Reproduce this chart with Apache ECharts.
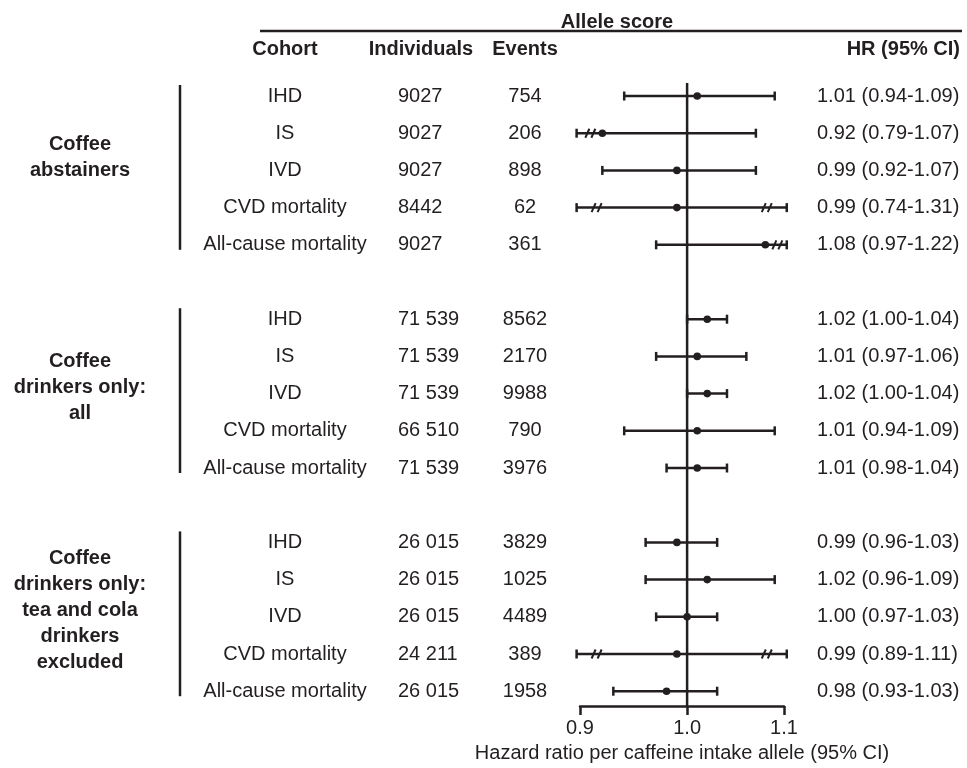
<!DOCTYPE html>
<html>
<head>
<meta charset="utf-8">
<script src="https://cdn.jsdelivr.net/npm/echarts@6/dist/echarts.min.js"></script>
<style>
html,body{margin:0;padding:0;background:#fff;}
#chart{width:967px;height:768px;}
</style>
</head>
<body>
<div id="chart"></div>
<script>
// ---------- DATA ----------
const groupLabels = ['Coffee\nabstainers', 'Coffee\ndrinkers only:\nall', 'Coffee\ndrinkers only:\ntea and cola\ndrinkers\nexcluded'];
const cohorts = ['IHD', 'IS', 'IVD', 'CVD mortality', 'All-cause mortality'];
const individuals = [
  ['9027', '9027', '9027', '8442', '9027'],
  ['71 539', '71 539', '71 539', '66 510', '71 539'],
  ['26 015', '26 015', '26 015', '24 211', '26 015']
];
const events = [
  ['754', '206', '898', '62', '361'],
  ['8562', '2170', '9988', '790', '3976'],
  ['3829', '1025', '4489', '389', '1958']
];
const hr = [
  [1.01, 0.92, 0.99, 0.99, 1.08],
  [1.02, 1.01, 1.02, 1.01, 1.01],
  [0.99, 1.02, 1.00, 0.99, 0.98]
];
const ciLow = [
  [0.94, 0.79, 0.92, 0.74, 0.97],
  [1.00, 0.97, 1.00, 0.94, 0.98],
  [0.96, 0.96, 0.97, 0.89, 0.93]
];
const ciHigh = [
  [1.09, 1.07, 1.07, 1.31, 1.22],
  [1.04, 1.06, 1.04, 1.09, 1.04],
  [1.03, 1.09, 1.03, 1.11, 1.03]
];
const tickValues = [0.9, 1.0, 1.1];
const tickLabels = ['0.9', '1.0', '1.1'];
const referenceHR = 1.0;
const displayRange = [0.897, 1.103]; // CI lines are truncated beyond this
const axisTitle = 'Hazard ratio per caffeine intake allele (95% CI)';
const headerTitle = 'Allele score';
const headers = ['Cohort', 'Individuals', 'Events', 'HR (95% CI)'];

// ---------- LAYOUT ----------
const COLOR = '#231f20';
const FONT = '"Liberation Sans", Arial, Helvetica, sans-serif';
const FS = 20;
const SLOTS_PER_GROUP = 6;
const Y_MIN = -0.35, Y_MAX = 16.4;
const COL_COHORT = 285, COL_IND = 398, COL_EVT = 525, COL_HR = 817;
const BRACKET_X = 180, GROUP_X = 80;
const GROUP_LABEL_SHIFT = [-13, -6, -6];

const fmt = v => v.toFixed(2);
const ciData = [], textData = [], groupData = [];
hr.forEach((g, gi) => {
  g.forEach((v, ri) => {
    const slot = gi * SLOTS_PER_GROUP + ri;
    ciData.push([Math.log(v), slot, Math.log(ciLow[gi][ri]), Math.log(ciHigh[gi][ri])]);
    textData.push([0, slot, gi, ri]);
  });
  groupData.push([0, gi * SLOTS_PER_GROUP, gi * SLOTS_PER_GROUP + g.length - 1, gi]);
});
const clipLo = Math.log(displayRange[0]), clipHi = Math.log(displayRange[1]);

function renderCI(params, api) {
  const v = api.value(0), slot = api.value(1), lo = api.value(2), hi = api.value(3);
  const y = api.coord([0, slot])[1];
  const xd = api.coord([v, slot])[0];
  const xl = api.coord([Math.max(lo, clipLo), slot])[0];
  const xr = api.coord([Math.min(hi, clipHi), slot])[0];
  const st = { stroke: COLOR, lineWidth: 2.5 };
  const ch = [
    { type: 'line', shape: { x1: xl, y1: y, x2: xr, y2: y }, style: st },
    { type: 'line', shape: { x1: xl, y1: y - 4.5, x2: xl, y2: y + 4.5 }, style: st },
    { type: 'line', shape: { x1: xr, y1: y - 4.5, x2: xr, y2: y + 4.5 }, style: st },
    { type: 'circle', shape: { cx: xd, cy: y, r: 3.8 }, style: { fill: COLOR } }
  ];
  const slash = x => [
    { type: 'line', shape: { x1: x - 5, y1: y + 4.5, x2: x - 1, y2: y - 4.5 }, style: { stroke: COLOR, lineWidth: 2 } },
    { type: 'line', shape: { x1: x + 1, y1: y + 4.5, x2: x + 5, y2: y - 4.5 }, style: { stroke: COLOR, lineWidth: 2 } }
  ];
  if (lo < clipLo) {
    let p = xl + 20;
    if (Math.abs(xd - p) < 12) p = Math.max(xd - 12, xl + 4);
    ch.push(...slash(p));
  }
  if (hi > clipHi) {
    let p = xr - 20;
    if (Math.abs(xd - p) < 12) p = Math.min(xd + 12, xr - 4);
    ch.push(...slash(p));
  }
  return { type: 'group', children: ch };
}

function txt(x, y, s, align, bold) {
  return {
    type: 'text', x: x, y: y,
    style: { text: s, fill: COLOR, font: (bold ? 'bold ' : '') + FS + 'px ' + FONT, align: align, verticalAlign: 'middle' }
  };
}

function renderText(params, api) {
  const slot = api.value(1), gi = api.value(2), ri = api.value(3);
  const y = api.coord([0, slot])[1];
  return {
    type: 'group', children: [
      txt(COL_COHORT, y, cohorts[ri], 'center'),
      txt(COL_IND, y, individuals[gi][ri], 'left'),
      txt(COL_EVT, y, events[gi][ri], 'center'),
      txt(COL_HR, y, fmt(hr[gi][ri]) + ' (' + fmt(ciLow[gi][ri]) + '-' + fmt(ciHigh[gi][ri]) + ')', 'left')
    ]
  };
}

function renderGroup(params, api) {
  const s0 = api.value(1), s1 = api.value(2), gi = api.value(3);
  const y0 = api.coord([0, s0])[1], y1 = api.coord([0, s1])[1];
  const ym = api.coord([0, (s0 + s1) / 2])[1] + GROUP_LABEL_SHIFT[gi];
  return {
    type: 'group', children: [
      { type: 'line', shape: { x1: BRACKET_X, y1: y0 - 11, x2: BRACKET_X, y2: y1 + 5 }, style: { stroke: COLOR, lineWidth: 2.5 } },
      {
        type: 'text', x: GROUP_X, y: ym,
        style: { text: groupLabels[gi], fill: COLOR, font: 'bold ' + FS + 'px ' + FONT, align: 'center', verticalAlign: 'middle', lineHeight: 26 }
      }
    ]
  };
}

const chart = echarts.init(document.getElementById('chart'), null, { renderer: 'canvas' });
chart.setOption({
  backgroundColor: '#fff',
  animation: false,
  textStyle: { fontFamily: FONT },
  grid: { left: 580, right: 183, top: 83, bottom: 61 },
  xAxis: {
    type: 'value',
    min: Math.log(tickValues[0]),
    max: Math.log(tickValues[tickValues.length - 1]),
    splitLine: { show: false },
    axisLine: { show: true, onZero: false, lineStyle: { color: COLOR, width: 2.5 } },
    axisTick: { show: true, customValues: tickValues.map(Math.log), length: 9, lineStyle: { color: COLOR, width: 2.5 } },
    axisLabel: {
      show: true, customValues: tickValues.map(Math.log), margin: 12,
      fontSize: FS, color: COLOR, fontFamily: FONT,
      formatter: v => { const i = tickValues.findIndex(t => Math.abs(Math.log(t) - v) < 1e-6); return i >= 0 ? tickLabels[i] : ''; }
    },
    name: axisTitle, nameLocation: 'middle', nameGap: 36,
    nameTextStyle: { fontSize: FS, color: COLOR, fontFamily: FONT }
  },
  yAxis: {
    type: 'value', inverse: true, min: Y_MIN, max: Y_MAX,
    show: false, splitLine: { show: false }
  },
  graphic: [
    { type: 'text', x: 617, y: 22, style: { text: headerTitle, fill: COLOR, font: 'bold ' + FS + 'px ' + FONT, align: 'center', verticalAlign: 'middle' } },
    { type: 'line', shape: { x1: 260, y1: 31, x2: 962, y2: 31 }, style: { stroke: COLOR, lineWidth: 2.5 } },
    { type: 'text', x: COL_COHORT, y: 49, style: { text: headers[0], fill: COLOR, font: 'bold ' + FS + 'px ' + FONT, align: 'center', verticalAlign: 'middle' } },
    { type: 'text', x: 421, y: 49, style: { text: headers[1], fill: COLOR, font: 'bold ' + FS + 'px ' + FONT, align: 'center', verticalAlign: 'middle' } },
    { type: 'text', x: COL_EVT, y: 49, style: { text: headers[2], fill: COLOR, font: 'bold ' + FS + 'px ' + FONT, align: 'center', verticalAlign: 'middle' } },
    { type: 'text', x: 960, y: 49, style: { text: headers[3], fill: COLOR, font: 'bold ' + FS + 'px ' + FONT, align: 'right', verticalAlign: 'middle' } }
  ],
  series: [
    {
      type: 'line', name: 'ref', data: [[Math.log(referenceHR), Y_MIN], [Math.log(referenceHR), Y_MAX]],
      showSymbol: false, symbol: 'none', silent: true, z: 1,
      lineStyle: { color: COLOR, width: 2.5 }
    },
    { type: 'custom', name: 'ci', data: ciData, renderItem: renderCI, clip: false, encode: { x: 0, y: 1 }, silent: true, z: 2 },
    { type: 'custom', name: 'text', data: textData, renderItem: renderText, clip: false, encode: { x: 0, y: 1 }, silent: true },
    { type: 'custom', name: 'groups', data: groupData, renderItem: renderGroup, clip: false, encode: { x: 0, y: 1 }, silent: true }
  ]
});
</script>
</body>
</html>
